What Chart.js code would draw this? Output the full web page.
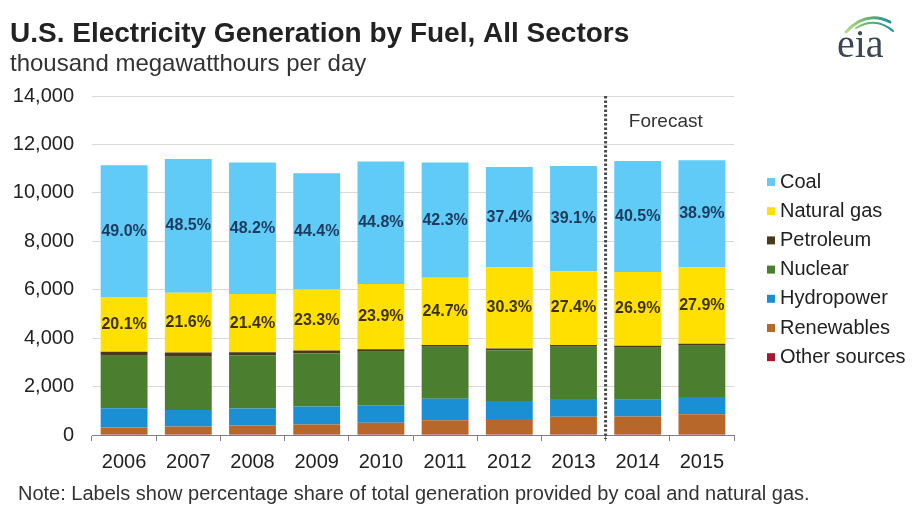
<!DOCTYPE html>
<html>
<head>
<meta charset="utf-8">
<script src="https://cdn.jsdelivr.net/npm/chart.js@4.4.1/dist/chart.umd.min.js"></script>
<style>
  html, body { margin: 0; padding: 0; background: #fff; }
  #wrap { width: 912px; height: 507px; position: relative; }
</style>
</head>
<body>
<div id="wrap"><canvas id="c" width="912" height="507"></canvas></div>
<script>
// U.S. electricity generation by fuel, thousand megawatthours per day
const years = ['2006', '2007', '2008', '2009', '2010', '2011', '2012', '2013', '2014', '2015'];
const coal         = [5460, 5530, 5430, 4800, 5062, 4755, 4140, 4344, 4583, 4413];
const naturalGas   = [2240, 2460, 2410, 2520, 2701, 2775, 3354, 3044, 3044, 3165];
const petroleum    = [170, 180, 125, 105, 100, 80, 65, 75, 80, 80];
const nuclear      = [2170, 2200, 2200, 2200, 2210, 2140, 2100, 2160, 2150, 2120];
const hydropower   = [790, 680, 700, 750, 720, 895, 740, 735, 690, 705];
const renewables   = [270, 310, 350, 390, 465, 565, 625, 710, 730, 825];
const otherSources = [40, 40, 40, 40, 42, 40, 40, 40, 38, 37];
const firstForecastYear = '2014';

const FONT = "'Liberation Sans', Arial, sans-serif";

// stacked bottom-to-top
const series = [
  { label: 'Other sources', data: otherSources, color: '#9E1B32' },
  { label: 'Renewables',    data: renewables,   color: '#B8672B' },
  { label: 'Hydropower',    data: hydropower,   color: '#1B8FD3' },
  { label: 'Nuclear',       data: nuclear,      color: '#4B7F2F' },
  { label: 'Petroleum',     data: petroleum,    color: '#4A3A1C' },
  { label: 'Natural gas',   data: naturalGas,   color: '#FFE000', shareColor: '#3B3200' },
  { label: 'Coal',          data: coal,         color: '#5FCBF6', shareColor: '#1E3A5C' }
];

const totals = years.map((_, i) => series.reduce((s, d) => s + d.data[i], 0));

// header, note and logo
const headerPlugin = {
  id: 'header',
  afterDraw(chart) {
    const ctx = chart.ctx;
    ctx.save();
    ctx.fillStyle = '#222';
    ctx.textAlign = 'left';
    ctx.textBaseline = 'alphabetic';
    ctx.font = `bold 28px ${FONT}`;
    ctx.fillText('U.S. Electricity Generation by Fuel, All Sectors', 10, 42);
    ctx.fillStyle = '#333';
    ctx.font = `24px ${FONT}`;
    ctx.fillText('thousand megawatthours per day', 10, 71);
    ctx.font = `20px ${FONT}`;
    ctx.fillText('Note: Labels show percentage share of total generation provided by coal and natural gas.', 18, 500);

    // eia mark
    const g = ctx.createLinearGradient(842, 0, 892, 0);
    g.addColorStop(0, '#c9e08a');
    g.addColorStop(0.5, '#5fb86a');
    g.addColorStop(1, '#1f8fa8');
    ctx.strokeStyle = g;
    ctx.lineCap = 'round';
    ctx.lineWidth = 3;
    ctx.beginPath();
    ctx.moveTo(846, 32);
    ctx.quadraticCurveTo(866, 10, 890, 22);
    ctx.stroke();
    ctx.lineWidth = 2;
    ctx.beginPath();
    ctx.moveTo(856, 28);
    ctx.quadraticCurveTo(876, 16, 893, 31);
    ctx.stroke();
    ctx.fillStyle = '#3b4652';
    ctx.font = `40px 'Liberation Serif', serif`;
    ctx.fillText('eia', 837, 57);
    ctx.restore();
  }
};

// percentage share labels inside coal and natural gas segments
const shareLabels = {
  id: 'shareLabels',
  afterDatasetsDraw(chart) {
    const ctx = chart.ctx;
    ctx.save();
    ctx.font = `bold 16px ${FONT}`;
    ctx.textAlign = 'center';
    ctx.textBaseline = 'middle';
    chart.data.datasets.forEach((ds, di) => {
      const s = series[di];
      if (!s.shareColor) return;
      const meta = chart.getDatasetMeta(di);
      meta.data.forEach((bar, i) => {
        const pct = (ds.data[i] / totals[i] * 100).toFixed(1) + '%';
        ctx.fillStyle = s.shareColor;
        ctx.fillText(pct, bar.x, (bar.y + bar.base) / 2);
      });
    });
    ctx.restore();
  }
};

// dotted divider before forecast years
const forecastPlugin = {
  id: 'forecast',
  afterDatasetsDraw(chart) {
    const { ctx, chartArea, scales } = chart;
    const i = years.indexOf(firstForecastYear);
    const x = (scales.x.getPixelForValue(i - 1) + scales.x.getPixelForValue(i)) / 2;
    ctx.save();
    ctx.strokeStyle = '#4a4a4a';
    ctx.lineWidth = 3;
    ctx.setLineDash([2.5, 2]);
    ctx.beginPath();
    ctx.moveTo(x, chartArea.top);
    ctx.lineTo(x, chartArea.bottom + 4);
    ctx.stroke();
    ctx.setLineDash([]);
    ctx.fillStyle = '#333';
    ctx.font = `19px ${FONT}`;
    ctx.textAlign = 'center';
    ctx.textBaseline = 'middle';
    ctx.fillText('Forecast', (x + chartArea.right) / 2 - 4, 122);
    ctx.restore();
  }
};

// legend, top series first
const legendPlugin = {
  id: 'sideLegend',
  afterDraw(chart) {
    const ctx = chart.ctx;
    ctx.save();
    ctx.font = `20px ${FONT}`;
    ctx.textAlign = 'left';
    ctx.textBaseline = 'middle';
    const items = chart.data.datasets.slice().reverse();
    items.forEach((ds, k) => {
      const y = 182 + k * 29.2;
      ctx.fillStyle = ds.backgroundColor;
      ctx.fillRect(767, y - 4, 8, 8);
      ctx.fillStyle = '#222';
      ctx.fillText(ds.label, 780, y);
    });
    ctx.restore();
  }
};

new Chart(document.getElementById('c'), {
  type: 'bar',
  data: {
    labels: years,
    datasets: series.map(s => ({
      label: s.label,
      data: s.data,
      backgroundColor: s.color,
      borderWidth: 0,
      barPercentage: 0.73,
      categoryPercentage: 1
    }))
  },
  options: {
    responsive: false,
    animation: false,
    layout: { padding: { left: 0, right: 178, top: 96, bottom: 32 } },
    plugins: { legend: { display: false }, tooltip: { enabled: false } },
    scales: {
      x: {
        stacked: true,
        grid: { display: true, drawOnChartArea: false, drawTicks: true, tickLength: 6, color: '#808080', offset: true },
        border: { display: true, color: '#808080', width: 1 },
        ticks: { font: { family: FONT, size: 20 }, color: '#222', padding: 9, maxRotation: 0 },
        afterFit(s) { s.height = 40; }
      },
      y: {
        stacked: true,
        min: 0,
        max: 14000,
        ticks: {
          stepSize: 2000,
          padding: 18,
          font: { family: FONT, size: 20 },
          color: '#222',
          callback: v => v.toLocaleString('en-US')
        },
        grid: { color: '#d9d9d9', drawTicks: false },
        border: { display: false },
        afterFit(s) { s.width = 92; }
      }
    }
  },
  plugins: [shareLabels, forecastPlugin, legendPlugin, headerPlugin]
});
</script>
</body>
</html>
